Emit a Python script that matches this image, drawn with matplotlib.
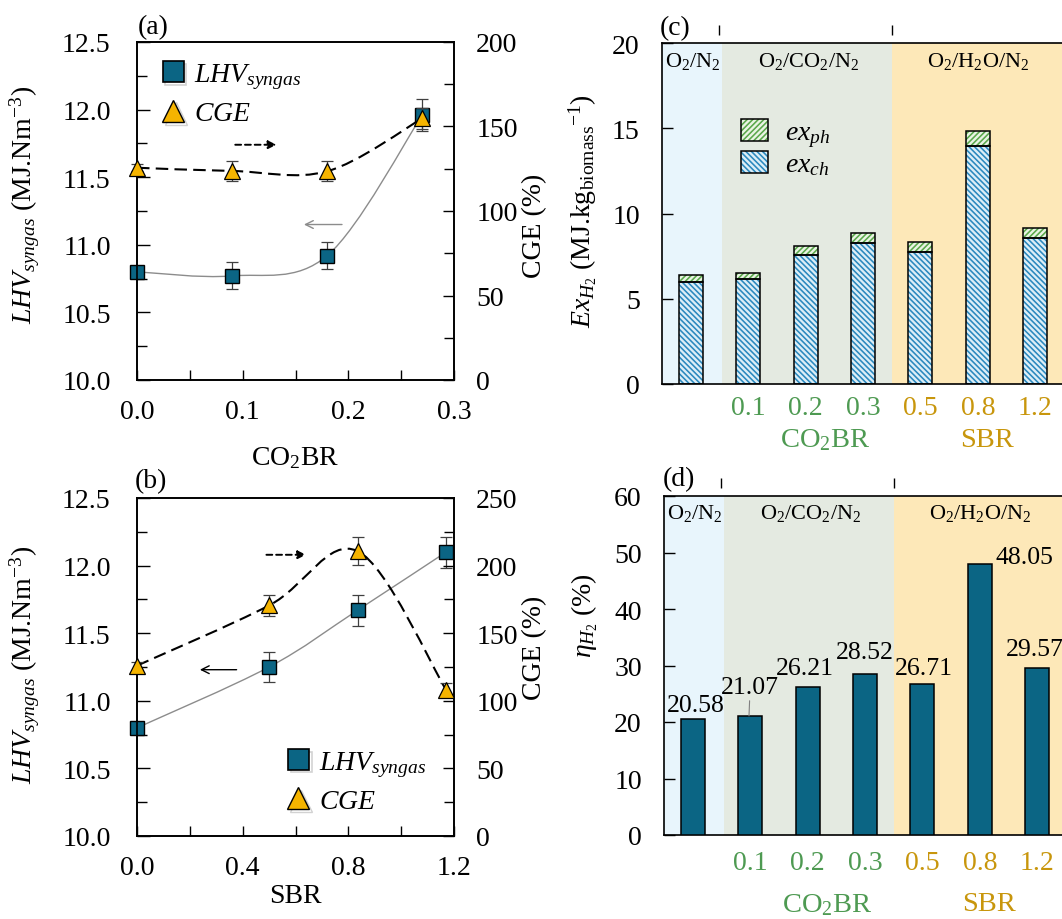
import numpy as np
import matplotlib
matplotlib.use('Agg')
import matplotlib.pyplot as plt
from matplotlib.ticker import MultipleLocator
from matplotlib.patches import Patch, PathPatch
from matplotlib.path import Path
from matplotlib.lines import Line2D
from matplotlib.transforms import blended_transform_factory
import matplotlib.patheffects as pe

plt.rcParams['font.family'] = ['Liberation Serif', 'DejaVu Serif']
plt.rcParams['mathtext.fontset'] = 'custom'
plt.rcParams['mathtext.rm'] = 'Liberation Serif'
plt.rcParams['mathtext.it'] = 'Liberation Serif:italic'
plt.rcParams['mathtext.bf'] = 'Liberation Serif:bold'
plt.rcParams['hatch.linewidth'] = 1.15

# ---------------- data ----------------
co2br = [0.0, 0.09, 0.18, 0.27]
lhv_a = [10.80, 10.77, 10.92, 11.96]
lhv_a_err = [0.03, 0.10, 0.10, 0.12]
cge_a = [125.6, 123.7, 123.5, 154.8]
cge_a_err = [2.0, 6.0, 6.0, 6.0]

sbr = [0.0, 0.50, 0.835, 1.17]
lhv_b = [10.80, 11.25, 11.67, 12.10]
lhv_b_err = [0.03, 0.11, 0.115, 0.115]
cge_b = [126.0, 170.5, 210.7, 108.2]
cge_b_err = [3.0, 8.0, 10.5, 5.0]

case_labels = ['', '0.1', '0.2', '0.3', '0.5', '0.8', '1.2']
ex_ch = [5.97, 6.13, 7.59, 8.26, 7.77, 13.93, 8.57]
ex_ph = [0.43, 0.39, 0.53, 0.59, 0.53, 0.90, 0.59]
eta_h2 = [20.58, 21.07, 26.21, 28.52, 26.71, 48.05, 29.57]

regions = ['O$_2$/N$_2$', 'O$_2$/CO$_2$/N$_2$', 'O$_2$/H$_2$O/N$_2$']

# ---------------- style ----------------
TEAL = '#0B6584'
ORANGE = '#F5B400'
BLUE_BG = '#E8F5FC'
GREEN_BG = '#E4EAE1'
YEL_BG = '#FDE8B8'
GREEN_TXT = '#4E9A52'
GOLD_TXT = '#C8960C'
CH_HATCH = '#2A88BE'
CH_FACE = '#DCEEF7'
PH_HATCH = '#5AA84B'
PH_FACE = '#EAF4E4'
FS = 20

W, H = 1062, 920
fig = plt.figure(figsize=(W / 100, H / 100), dpi=100)


def smooth_path(ax, x, y, **kw):
    """Excel-like smoothed line drawn as cubic Bezier path through the data points."""
    P = np.column_stack([x, y]).astype(float)
    Pe = np.vstack([P[0], P, P[-1]])
    verts = [P[0]]
    codes = [Path.MOVETO]
    for i in range(len(P) - 1):
        p0, p1, p2, p3 = Pe[i], Pe[i + 1], Pe[i + 2], Pe[i + 3]
        verts += [p1 + (p2 - p0) / 6, p2 - (p3 - p1) / 6, p2]
        codes += [Path.CURVE4] * 3
    patch = PathPatch(Path(verts, codes), fill=False, transform=ax.transData, **kw)
    ax.add_patch(patch)


def line_panel(rect, x, lhv, lhv_err, cge, cge_err, xmax, xmaj, xmin, cmax,
               dash_arrow, solid_arrow, leg_anchor, xlabel, xlabel_y, rlabel_y, llabel_y):
    ax = fig.add_axes(rect)
    ax2 = ax.twinx()
    ax.set_xlim(0, xmax)
    ax.set_ylim(10.0, 12.5)
    ax2.set_ylim(0, cmax)
    ax.xaxis.set_major_locator(MultipleLocator(xmaj))
    ax.xaxis.set_minor_locator(MultipleLocator(xmin))
    ax.yaxis.set_major_locator(MultipleLocator(0.5))
    ax.yaxis.set_minor_locator(MultipleLocator(0.25))
    ax2.yaxis.set_major_locator(MultipleLocator(50))
    ax2.yaxis.set_minor_locator(MultipleLocator(25))
    ax.xaxis.set_major_formatter(matplotlib.ticker.FormatStrFormatter('%.1f'))
    ax.yaxis.set_major_formatter(matplotlib.ticker.FormatStrFormatter('%.1f'))
    ax.tick_params(axis='x', which='both', direction='in', length=7, width=1,
                   labelsize=FS, pad=14, top=False)
    ax.tick_params(axis='y', which='major', direction='in', length=9, width=1,
                   labelsize=FS, pad=19, right=False)
    ax.tick_params(axis='y', which='minor', direction='in', length=7, width=1, right=False)
    ax2.tick_params(axis='y', which='major', direction='in', length=8, width=1,
                    labelsize=FS, pad=16)
    ax2.tick_params(axis='y', which='minor', direction='in', length=7, width=1)
    for a in (ax, ax2):
        for s in a.spines.values():
            s.set_linewidth(1.2)

    smooth_path(ax, x, lhv, edgecolor='#8C8C8C', lw=1.0, zorder=2)
    smooth_path(ax2, x, cge, edgecolor='black', lw=1.5, linestyle=(0, (6, 3)), zorder=2)

    ax.errorbar(x, lhv, yerr=lhv_err, fmt='none', ecolor='#404040', elinewidth=0.9,
                capsize=4, capthick=0.9, zorder=3, clip_on=False)
    ax.plot(x, lhv, ls='none', marker='s', ms=10, mfc=TEAL, mec='black', mew=1.0,
            zorder=4, clip_on=False)
    ax2.errorbar(x, cge, yerr=cge_err, fmt='none', ecolor='#404040', elinewidth=0.9,
                 capsize=4, capthick=0.9, zorder=3, clip_on=False)
    ax2.plot(x, cge, ls='none', marker='^', ms=11, mfc=ORANGE, mec='black', mew=0.9,
             zorder=4, clip_on=False)

    ax.annotate('', xy=dash_arrow[1], xytext=dash_arrow[0],
                arrowprops=dict(arrowstyle='-|>', color='black', lw=1.4, ls=(0, (3, 2)),
                                shrinkA=0, shrinkB=0, mutation_scale=12))
    ax.annotate('', xy=solid_arrow[1], xytext=solid_arrow[0],
                arrowprops=dict(arrowstyle='->', color=solid_arrow[2], lw=1.0,
                                shrinkA=0, shrinkB=0, mutation_scale=14))

    handles = [Line2D([], [], ls='none', marker='s', ms=15, mfc=TEAL, mec='black', mew=1.2),
               Line2D([], [], ls='none', marker='^', ms=16, mfc=ORANGE, mec='black', mew=1.0)]
    leg = ax2.legend(handles, [r'$LHV_{syngas}$', r'$CGE$'], loc='upper left',
                     bbox_to_anchor=leg_anchor, frameon=False, fontsize=20,
                     handlelength=1.0, handletextpad=0.25, labelspacing=0.35,
                     borderaxespad=0)
    for h in leg.legend_handles:
        h.set_path_effects([pe.SimpleLineShadow(offset=(2, -2), alpha=0.35, shadow_color='gray'),
                            pe.Normal()])

    ax.set_xlabel(xlabel, fontsize=FS)
    ax.xaxis.set_label_coords(0.5, xlabel_y)
    ax.set_ylabel(r'$LHV_{syngas}$ (MJ.Nm$^{-3}$)', fontsize=FS)
    ax.yaxis.set_label_coords(-0.30, llabel_y)
    ax2.set_ylabel('CGE (%)', fontsize=FS)
    ax2.yaxis.set_label_coords(1.215, rlabel_y)
    return ax, ax2


# ---- panel (a)
line_panel([137 / W, 1 - 381 / H, 317 / W, 338 / H], co2br, lhv_a, lhv_a_err, cge_a, cge_a_err,
           0.3, 0.1, 0.05, 200,
           dash_arrow=[(0.093, 11.74), (0.132, 11.74)],
           solid_arrow=[(0.194, 11.15), (0.158, 11.15), '#8C8C8C'],
           leg_anchor=(0.035, 0.975), xlabel='CO$_2$BR', xlabel_y=-0.19,
           rlabel_y=0.46, llabel_y=0.52)
fig.text(138 / W, 1 - 28 / H, '(a)', fontsize=20, ha='left', va='center')

# ---- panel (b)
line_panel([137 / W, 1 - 837 / H, 317 / W, 338 / H], sbr, lhv_b, lhv_b_err, cge_b, cge_b_err,
           1.2, 0.4, 0.2, 250,
           dash_arrow=[(0.49, 12.08), (0.64, 12.08)],
           solid_arrow=[(0.377, 11.23), (0.238, 11.23), 'black'],
           leg_anchor=(0.43, 0.29), xlabel='SBR', xlabel_y=-0.14,
           rlabel_y=0.56, llabel_y=0.51)
fig.text(135 / W, 1 - 482 / H, '(b)', fontsize=20, ha='left', va='center')


def bar_panel(rect, ylim, ystep, tick_pad, grp_y):
    ax = fig.add_axes(rect)
    x = np.arange(len(case_labels))
    ax.set_xlim(-0.5, 6.5)
    ax.set_ylim(*ylim)
    ax.axvspan(-0.5, 0.55, color=BLUE_BG, lw=0, zorder=0)
    ax.axvspan(0.55, 3.5, color=GREEN_BG, lw=0, zorder=0)
    ax.axvspan(3.5, 6.5, color=YEL_BG, lw=0, zorder=0)
    ax.yaxis.set_major_locator(MultipleLocator(ystep))
    ax.tick_params(axis='y', direction='in', length=8, width=1, labelsize=FS, pad=16)
    ax.set_xticks(x)
    ax.set_xticklabels(case_labels)
    ax.tick_params(axis='x', length=0, labelsize=FS, pad=tick_pad)
    for i, t in enumerate(ax.get_xticklabels()):
        t.set_color(GREEN_TXT if i <= 3 else GOLD_TXT)
    for s in ax.spines.values():
        s.set_linewidth(1.2)
    tr = blended_transform_factory(ax.transData, ax.transAxes)
    for xc, txt in zip([0.03, 2.06, 5.0], regions):
        ax.text(xc, 0.95, txt, transform=tr, ha='center', va='center', fontsize=16)
    ax.text(2.35, grp_y, 'CO$_2$BR', transform=tr, ha='center', va='top',
            fontsize=20.5, color=GREEN_TXT)
    ax.text(5.16, grp_y, 'SBR', transform=tr, ha='center', va='top',
            fontsize=20.5, color=GOLD_TXT)
    sec = ax.secondary_xaxis(1 + 8 / (rect[3] * H))
    sec.set_xticks([0.5, 3.5])
    sec.set_xticklabels([])
    sec.tick_params(direction='out', length=7, width=1)
    for s in sec.spines.values():
        s.set_visible(False)
    return ax, x


BW = 0.42
CH_H = '\\' * 6
PH_H = '/' * 6
# ---- panel (c)
axC, xC = bar_panel([662 / W, 1 - 385 / H, 402 / W, 341 / H], (0, 20), 5, 8, -0.125)
axC.bar(xC, ex_ch, width=BW, color=CH_FACE, edgecolor=CH_HATCH, hatch=CH_H, lw=0, zorder=2)
axC.bar(xC, ex_ch, width=BW, fill=False, edgecolor='black', lw=1.1, zorder=3)
axC.bar(xC, ex_ph, bottom=ex_ch, width=BW, color=PH_FACE, edgecolor=PH_HATCH, hatch=PH_H,
        lw=0, zorder=2)
axC.bar(xC, ex_ph, bottom=ex_ch, width=BW, fill=False, edgecolor='black', lw=1.1, zorder=3)
hp = (Patch(facecolor=PH_FACE, edgecolor=PH_HATCH, hatch=PH_H, lw=0),
      Patch(fill=False, edgecolor='black', lw=1.1))
hc = (Patch(facecolor=CH_FACE, edgecolor=CH_HATCH, hatch=CH_H, lw=0),
      Patch(fill=False, edgecolor='black', lw=1.1))
axC.legend([hp, hc], [r'$ex_{ph}$', r'$ex_{ch}$'], loc='upper left',
           bbox_to_anchor=(0.17, 0.81), frameon=False, fontsize=20,
           handlelength=0.95, handleheight=0.85, handletextpad=0.6, labelspacing=0.05,
           borderaxespad=0)
axC.set_ylabel(r'$Ex_{H_2}$ (MJ.kg$_{\mathrm{biomass}}$$^{-1}$)', fontsize=FS)
axC.yaxis.set_label_coords(-0.155, 0.51)
fig.text(660 / W, 1 - 29 / H, '(c)', fontsize=20, ha='left', va='center')

# ---- panel (d)
axD, xD = bar_panel([664 / W, 1 - 836 / H, 402 / W, 339 / H], (0, 60), 10, 11, -0.165)
axD.bar(xD, eta_h2, width=BW, color=TEAL, edgecolor='black', lw=1.1, zorder=3)
lab_x = [0.05, 1.0, 1.96, 3.0, 4.03, 5.78, 5.96]
lab_y = [23.0, 26.2, 29.6, 32.4, 29.6, 49.2, 32.9]
for i, v in enumerate(eta_h2):
    if i == 1:
        axD.annotate(f'{v:.2f}', xy=(xD[i] - 0.02, v), xytext=(lab_x[i], lab_y[i]),
                     ha='center', va='center', fontsize=18.5, zorder=5,
                     arrowprops=dict(arrowstyle='-', color='#808080', lw=0.8,
                                     shrinkA=0, shrinkB=0))
    else:
        axD.text(lab_x[i], lab_y[i], f'{v:.2f}', ha='center', va='center', fontsize=18.5,
                 zorder=5)
axD.set_ylabel(r'$\eta_{H_2}$ (%)', fontsize=FS)
axD.yaxis.set_label_coords(-0.16, 0.65)
fig.text(663 / W, 1 - 480 / H, '(d)', fontsize=20, ha='left', va='center')

fig.savefig('out.png', dpi=100)
